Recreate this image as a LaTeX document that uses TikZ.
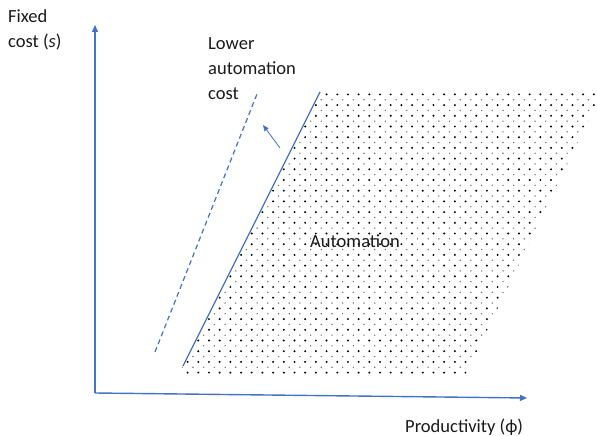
\documentclass[tikz,border=0pt]{standalone}
\usepackage{fontspec}
\setmainfont{Carlito}
\usetikzlibrary{arrows.meta}
\definecolor{axisblue}{HTML}{4472C4}
\definecolor{txt}{HTML}{1A1A1A}
\begin{document}
\begin{tikzpicture}[x=1bp,y=-1bp,
  lbl/.style={font=\fontsize{18.6}{25.5}\selectfont, text=txt, inner sep=0pt, align=left},
  axis/.style={draw=axisblue, line width=1.4bp, -{Triangle[length=7bp,width=6bp]}},
  edge/.style={draw=axisblue, line width=1.2bp},
  shiftline/.style={draw=axisblue, line width=1.2bp, dash pattern=on 5bp off 3.5bp},
  pointer/.style={draw=axisblue, line width=0.8bp, -{Triangle[length=6bp,width=5bp]}},
  dotdark/.style={fill=black},
  dotlight/.style={fill=black!55}]
\useasboundingbox (0,0) rectangle (597,436);

% axes
\coordinate (O) at (95,393);
\coordinate (ytop) at (95,25);
\coordinate (xend) at (527,398);
\draw[axis] (O) -- (ytop);
\draw[axis] (O) -- (xend);

% corners of the automation region
\coordinate (A) at (183,366);
\coordinate (B) at (320,92);
\coordinate (C) at (602,92);
\coordinate (D) at (462,366);

% dotted fill of the region
\begin{scope}
  \clip (183,366) -- (320,92) -- (602,92) -- (466,374) -- (179,374) -- cycle;
  \foreach \i in {-31,...,9} {
    \foreach \j in {-8,...,19} {
      \fill[dotdark] (508.3+10.69*\i, 169.3+10.7*\j) circle (1.1);
      \fill[dotlight] (503.0+10.69*\i, 174.65+10.7*\j) circle (0.8);
    }
  }
\end{scope}

% boundary of the automation region and its shifted position
\draw[edge] (A) -- (B);
\coordinate (S1) at (155,352);
\coordinate (S2) at (257,94);
\draw[shiftline] (S1) -- (S2);

% shift arrow
\coordinate (P1) at (280,148);
\coordinate (P2) at (263,125);
\draw[pointer] (P1) -- (P2);

% labels (base anchor sits on the last line)
\node[lbl, anchor=base west] (ylabel) at (8,48) {Fixed\\cost (\textit{s})};
\node[lbl, anchor=base west] (lower) at (208,100) {Lower\\automation\\cost};
\node[lbl, anchor=base west] (auto) at (310,248) {Automation};
\node[lbl, anchor=base west] (xlabel) at (405,432) {Productivity (ϕ)};
\end{tikzpicture}
\end{document}
